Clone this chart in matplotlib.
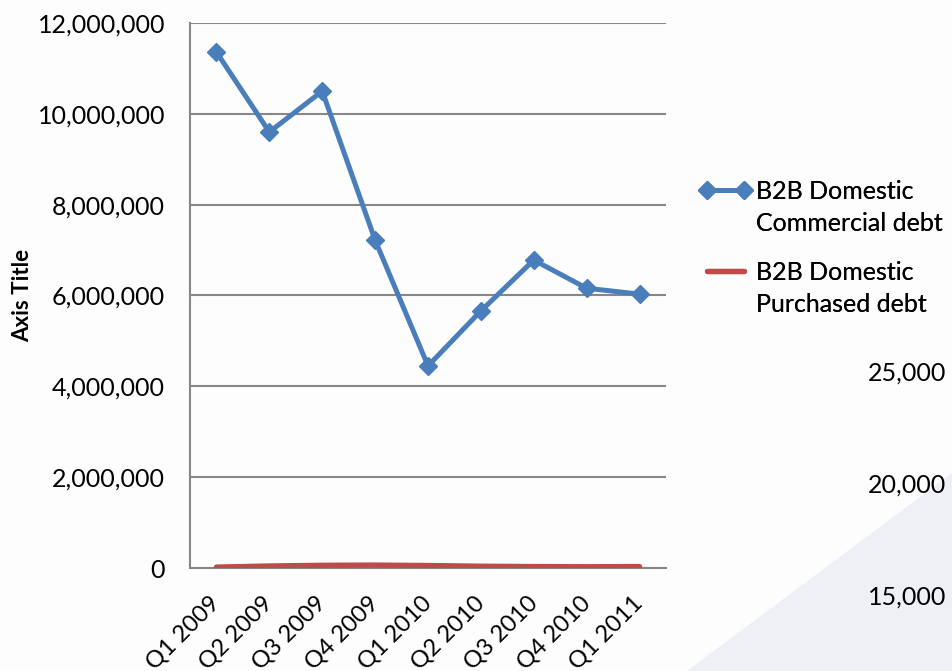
import matplotlib.pyplot as plt
from matplotlib.lines import Line2D
from matplotlib.patches import Polygon
from matplotlib.ticker import FuncFormatter

plt.rcParams['font.family'] = ['Lato', 'DejaVu Sans']

# data
quarters = ['Q1 2009', 'Q2 2009', 'Q3 2009', 'Q4 2009', 'Q1 2010',
            'Q2 2010', 'Q3 2010', 'Q4 2010', 'Q1 2011']
commercial = [11360000, 9600000, 10500000, 7220000, 4450000,
              5660000, 6780000, 6160000, 6030000]
purchased = [20000, 45000, 60000, 65000, 55000, 40000, 32000, 28000, 32000]
series_names = [('B2B Domestic', 'Commercial debt'),
                ('B2B Domestic', 'Purchased debt')]
side_labels = ['25,000', '20,000', '15,000']

blue = '#4a7ebb'
red = '#be4b48'
grid = '#878787'
FS = 18

fig = plt.figure(figsize=(9.52, 6.71), dpi=100)
fig.patch.set_facecolor('#fdfdfd')

# faint slide background shape in the lower right corner
fig.patches.append(Polygon([(687 / 952, 0), (1, 198 / 671), (1, 0)],
                           closed=True, transform=fig.transFigure,
                           facecolor='#eff0f5', edgecolor='none', zorder=0))

ax = fig.add_axes([190 / 952, 103 / 671, 476 / 952, 545 / 671])
ax.set_facecolor('none')

x = range(len(quarters))
l1, = ax.plot(x, commercial, color=blue, lw=3.6, marker='D', ms=9, zorder=3)
l2, = ax.plot(x, purchased, color=red, lw=3.8, solid_capstyle='round', zorder=3)

ax.set_xlim(-0.5, len(quarters) - 0.5)
ax.set_ylim(0, 12000000)
ax.set_yticks(range(0, 12000001, 2000000))
ax.yaxis.set_major_formatter(FuncFormatter(lambda v, p: f'{int(v):,}'))
ax.set_xticks(list(x))
ax.set_xticklabels(quarters, rotation=45, ha='right', va='center',
                   rotation_mode='anchor', fontsize=FS - 1)

ax.grid(axis='y', color=grid, lw=1.5)
ax.set_axisbelow(True)
for s in ['top', 'right']:
    ax.spines[s].set_visible(False)
for s in ['left', 'bottom']:
    ax.spines[s].set_color(grid)
    ax.spines[s].set_linewidth(1.5)
ax.tick_params(axis='y', length=0, labelsize=FS, colors='black', pad=18)
ax.tick_params(axis='x', length=0, colors='black', pad=23)

ax.set_ylabel('Axis Title', fontsize=FS - 2, fontweight='bold', labelpad=3)

# legend: handle sits beside the first line of each two-line name
blank = Line2D([], [], linestyle='none')
for handle, names, top in [(l1, series_names[0], 180), (l2, series_names[1], 261)]:
    leg = fig.legend([handle, blank], list(names), loc='upper left',
                     bbox_to_anchor=(699 / 952, 1 - top / 671), frameon=False,
                     fontsize=FS, handlelength=2.08, handletextpad=0.2,
                     labelspacing=0.35, numpoints=2, borderpad=0,
                     borderaxespad=0)
    fig.add_artist(leg)

# cut-off axis labels from a neighbouring chart on the slide
for lab, yp in zip(side_labels, [373, 485, 597]):
    fig.text(946 / 952, 1 - yp / 671, lab, ha='right', va='center', fontsize=FS)

fig.savefig('out.png', dpi=100, facecolor=fig.get_facecolor())
